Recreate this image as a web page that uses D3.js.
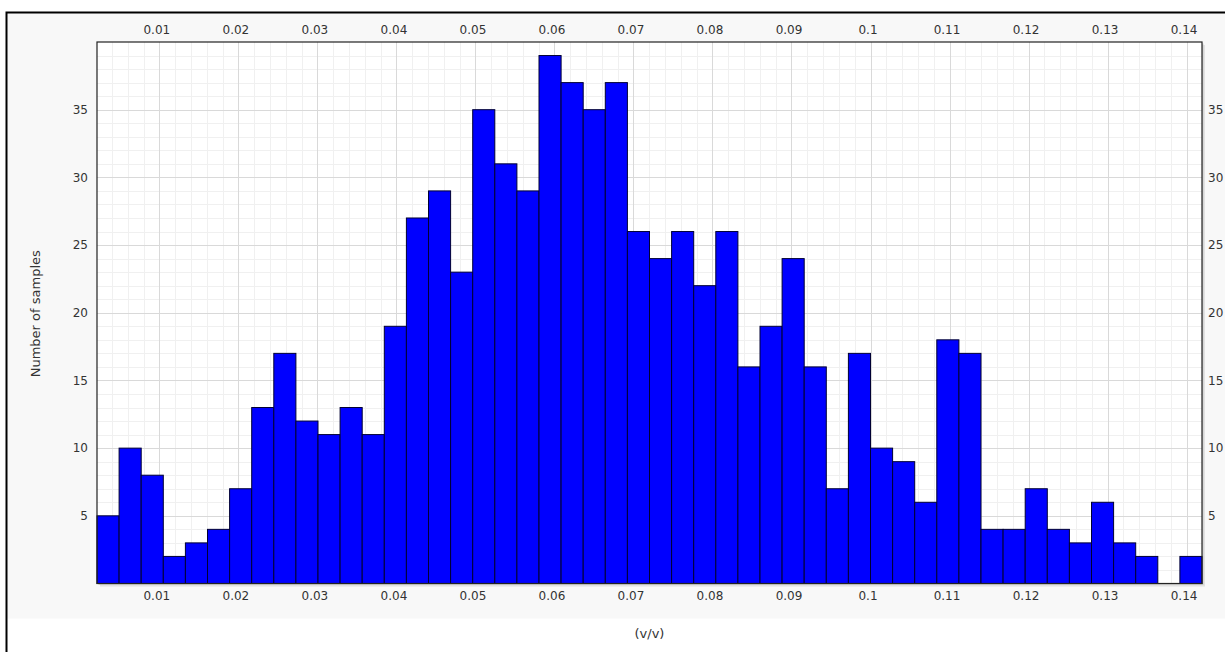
<!DOCTYPE html>
<html>
<head>
<meta charset="utf-8">
<script src="https://cdn.jsdelivr.net/npm/d3@7"></script>
<style>
  html, body { margin: 0; padding: 0; background: #ffffff; }
  svg { display: block; }
  text { font-family: "DejaVu Sans", Verdana, sans-serif; }
</style>
</head>
<body>
<svg id="chart" width="1225" height="652"></svg>
<script>
// ---- data ----
const counts = [5,10,8,2,3,4,7,13,17,12,11,13,11,19,27,29,23,35,31,29,39,37,35,37,26,24,26,22,26,16,19,24,16,7,17,10,9,6,18,17,4,4,7,4,3,6,3,2,0,2];
const binStart = 0.00211;
const binWidth = 0.0027968;
const xDomain = [0.00211, 0.14195];
const yDomain = [0, 40];
const xTicks = [0.01,0.02,0.03,0.04,0.05,0.06,0.07,0.08,0.09,0.1,0.11,0.12,0.13,0.14];
const yTicks = [5,10,15,20,25,30,35];
const yLabel = "Number of samples";
const xLabel = "(v/v)";

const bins = counts.map((c, i) => ({x0: binStart + i * binWidth, x1: binStart + (i + 1) * binWidth, n: c}));

// ---- layout ----
const svg = d3.select("#chart");
const L = 97, R = 1202, T = 42, B = 583.5;
const x = d3.scaleLinear().domain(xDomain).range([L, R]);
const y = d3.scaleLinear().domain(yDomain).range([B, T]);

// frame background
svg.append("rect").attr("x", 6.5).attr("y", 12.5).attr("width", 1225).attr("height", 606)
  .attr("fill", "#f8f8f8");
svg.append("path").attr("d", `M6.5,652 V12.5 H1225`).attr("fill", "none").attr("stroke", "#000").attr("stroke-width", 2);

// shadow
svg.append("rect").attr("x", L + 3).attr("y", T + 3).attr("width", R - L).attr("height", B - T)
  .attr("fill", "#d8d8d8").attr("opacity", 0.7);
svg.append("rect").attr("x", L + 1.5).attr("y", T + 1.5).attr("width", R - L).attr("height", B - T)
  .attr("fill", "#c4c4c4").attr("opacity", 0.7);
// plot background
svg.append("rect").attr("x", L).attr("y", T).attr("width", R - L).attr("height", B - T).attr("fill", "#fff");

// minor grid
const minorX = d3.range(0, 0.1421, 0.002).filter(v => v >= xDomain[0] && v <= xDomain[1]);
const minorY = d3.range(1, 40, 1);
const g = svg.append("g");
g.selectAll(".mx").data(minorX).join("line")
  .attr("x1", d => Math.round(x(d)) + 0.5).attr("x2", d => Math.round(x(d)) + 0.5)
  .attr("y1", T).attr("y2", B).attr("stroke", "#f0f0f0");
g.selectAll(".my").data(minorY).join("line")
  .attr("y1", d => Math.round(y(d)) + 0.5).attr("y2", d => Math.round(y(d)) + 0.5)
  .attr("x1", L).attr("x2", R).attr("stroke", "#f0f0f0");
// major grid
g.selectAll(".Mx").data(xTicks).join("line")
  .attr("x1", d => Math.round(x(d)) + 0.5).attr("x2", d => Math.round(x(d)) + 0.5)
  .attr("y1", T).attr("y2", B).attr("stroke", "#d9d9d9");
g.selectAll(".My").data(yTicks).join("line")
  .attr("y1", d => Math.round(y(d)) + 0.5).attr("y2", d => Math.round(y(d)) + 0.5)
  .attr("x1", L).attr("x2", R).attr("stroke", "#d9d9d9");

// bars
svg.append("g").selectAll("rect").data(bins.filter(b => b.n > 0)).join("rect")
  .attr("x", d => x(d.x0)).attr("width", d => x(d.x1) - x(d.x0))
  .attr("y", d => y(d.n)).attr("height", d => y(0) - y(d.n))
  .attr("fill", "#0000ff").attr("stroke", "#000033").attr("stroke-width", 1);

// plot border
svg.append("rect").attr("x", L).attr("y", T).attr("width", R - L).attr("height", B - T)
  .attr("fill", "none").attr("stroke", "#222").attr("stroke-width", 1.2);

// axes (labels only)
const fmt = d => String(+d.toFixed(2));
const axTop = svg.append("g").attr("transform", `translate(0,${T - 8})`)
  .call(d3.axisTop(x).tickValues(xTicks).tickFormat(fmt).tickSize(0).tickPadding(0));
const axBot = svg.append("g").attr("transform", `translate(0,${B + 8})`)
  .call(d3.axisBottom(x).tickValues(xTicks).tickFormat(fmt).tickSize(0).tickPadding(0));
const axLeft = svg.append("g").attr("transform", `translate(${L - 9},0)`)
  .call(d3.axisLeft(y).tickValues(yTicks).tickSize(0).tickPadding(0));
const axRight = svg.append("g").attr("transform", `translate(${R + 6},0)`)
  .call(d3.axisRight(y).tickValues(yTicks).tickSize(0).tickPadding(0));
[axTop, axBot, axLeft, axRight].forEach(a => {
  a.select(".domain").remove();
  a.selectAll("text").attr("fill", "#333").style("font-size", "12px").style("font-family", "'DejaVu Sans', Verdana, sans-serif");
});
axTop.selectAll("text").attr("dx", "-3");
axBot.selectAll("text").attr("dx", "-3");

// axis titles
svg.append("text").attr("transform", `translate(40,${(T + B) / 2 + 1}) rotate(-90)`)
  .attr("text-anchor", "middle").attr("fill", "#333").style("font-size", "13px").text(yLabel);
svg.append("text").attr("x", (L + R) / 2).attr("y", 638)
  .attr("text-anchor", "middle").attr("fill", "#333").style("font-size", "13px").text(xLabel);
</script>
</body>
</html>
